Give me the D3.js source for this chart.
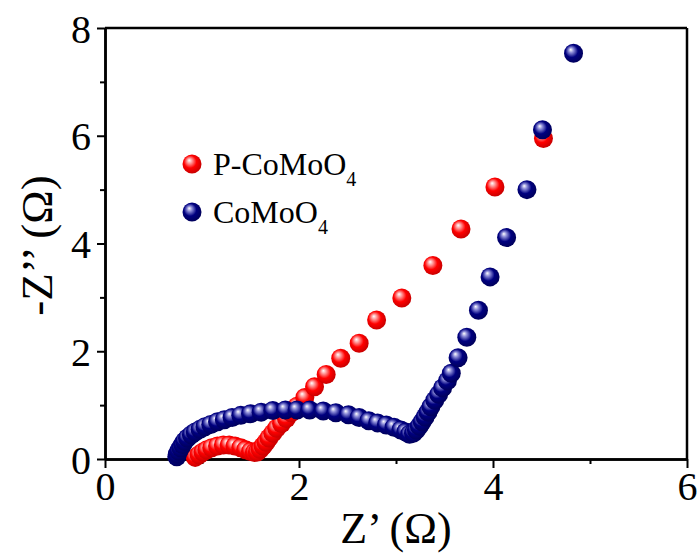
<!DOCTYPE html>
<html>
<head>
<meta charset="utf-8">
<script src="https://cdn.jsdelivr.net/npm/d3@7"></script>
<style>
  html, body { margin: 0; padding: 0; background: #fff; }
  svg { display: block; }
  text { font-family: "Liberation Serif", "Times New Roman", serif; fill: #000; }
</style>
</head>
<body>
<svg id="chart" width="699" height="556"></svg>
<script>
// ---- Data ----
const seriesNames = ["P-CoMoO", "CoMoO"];
const seriesSub = ["4", "4"];

const pZre = [0.93,0.97,1.01,1.05,1.10,1.16,1.22,1.28,1.34,1.40,1.45,1.50,1.54,1.57,1.60,1.63,1.66,1.69,1.73,1.77,1.82,1.87,1.92,1.98,2.06,2.16,2.28,2.43,2.62,2.80,3.06,3.38,3.67,4.02,4.52];
const pZim = [0.03,0.08,0.13,0.17,0.21,0.24,0.26,0.26,0.24,0.21,0.17,0.14,0.12,0.13,0.18,0.24,0.31,0.39,0.48,0.57,0.66,0.75,0.86,0.98,1.14,1.34,1.57,1.87,2.15,2.58,2.99,3.59,4.27,5.05,5.95];

const cZre = [0.74,0.745,0.76,0.78,0.80,0.82,0.85,0.89,0.93,0.98,1.03,1.09,1.16,1.23,1.31,1.40,1.50,1.61,1.73,1.86,1.98,2.11,2.25,2.38,2.51,2.62,2.72,2.81,2.90,2.98,3.05,3.10,3.14,3.18,3.21,3.24,3.27,3.30,3.33,3.36,3.40,3.44,3.48,3.53,3.57,3.64,3.73,3.85,3.97,4.14,4.35,4.51,4.83];
const cZim = [0.04,0.09,0.15,0.21,0.27,0.33,0.39,0.45,0.50,0.55,0.60,0.64,0.69,0.73,0.77,0.81,0.84,0.87,0.90,0.91,0.91,0.91,0.89,0.86,0.82,0.77,0.71,0.67,0.63,0.59,0.54,0.50,0.46,0.48,0.54,0.61,0.69,0.78,0.87,0.97,1.09,1.20,1.32,1.45,1.59,1.88,2.26,2.76,3.38,4.11,5.00,6.11,7.53];

const xMajor = [0, 2, 4, 6];
const xMinor = [1, 3, 5];
const yMajor = [0, 2, 4, 6, 8];
const yMinor = [1, 3, 5, 7];

// ---- Layout ----
const svg = d3.select("#chart");
const L = 105, R = 687, T = 28, B = 459;
const x = d3.scaleLinear().domain([0, 6]).range([L, R]);
const y = d3.scaleLinear().domain([0, 8]).range([B, T]);

// gradients
const defs = svg.append("defs");
function sphere(id, light, base, dark) {
  const g = defs.append("radialGradient").attr("id", id)
    .attr("cx", "45%").attr("cy", "45%").attr("r", "60%")
    .attr("fx", "35%").attr("fy", "30%");
  g.append("stop").attr("offset", "0%").attr("stop-color", "#ffffff");
  g.append("stop").attr("offset", "22%").attr("stop-color", light);
  g.append("stop").attr("offset", "55%").attr("stop-color", base);
  g.append("stop").attr("offset", "100%").attr("stop-color", dark);
}
sphere("gRed", "#ff9a9a", "#ff0000", "#c00000");
sphere("gBlue", "#8c8cd8", "#000080", "#000055");

// ---- Axes ----
const axW = 2.5;
const xAxis = svg.append("g").attr("transform", `translate(0,${B})`)
  .call(d3.axisBottom(x).tickValues(xMajor).tickSize(9).tickSizeOuter(0).tickFormat(d3.format("d")));
const xAxisMinor = svg.append("g").attr("transform", `translate(0,${B})`)
  .call(d3.axisBottom(x).tickValues(xMinor).tickSize(5).tickSizeOuter(0).tickFormat(""));
const yAxis = svg.append("g").attr("transform", `translate(${L},0)`)
  .call(d3.axisLeft(y).tickValues(yMajor).tickSize(8).tickSizeOuter(0).tickFormat(d3.format("d")));
const yAxisMinor = svg.append("g").attr("transform", `translate(${L},0)`)
  .call(d3.axisLeft(y).tickValues(yMinor).tickSize(5).tickSizeOuter(0).tickFormat(""));

[xAxis, xAxisMinor, yAxis, yAxisMinor].forEach(a => {
  a.select(".domain").attr("stroke", "#000").attr("stroke-width", axW);
  a.selectAll(".tick line").attr("stroke", "#000").attr("stroke-width", 2);
  a.selectAll(".tick text").attr("font-family", "Liberation Serif, Times New Roman, serif").attr("font-size", 40).attr("fill", "#000");
});
xAxis.selectAll(".tick text").attr("dy", null).attr("y", 41);
yAxis.selectAll(".tick text").attr("x", -14).attr("dy", "0.35em");

// frame top & right
svg.append("line").attr("x1", L).attr("x2", R).attr("y1", T).attr("y2", T).attr("stroke", "#000").attr("stroke-width", axW);
svg.append("line").attr("x1", R).attr("x2", R).attr("y1", T).attr("y2", B).attr("stroke", "#000").attr("stroke-width", axW);

// ---- Points ----
const rad = 9.5;
const pData = pZre.map((v, i) => [v, pZim[i]]);
const cData = cZre.map((v, i) => [v, cZim[i]]);
svg.append("g").selectAll("circle").data(pData).join("circle")
  .attr("cx", d => x(d[0])).attr("cy", d => y(d[1])).attr("r", rad).attr("fill", "url(#gRed)");
svg.append("g").selectAll("circle").data(cData).join("circle")
  .attr("cx", d => x(d[0])).attr("cy", d => y(d[1])).attr("r", rad).attr("fill", "url(#gBlue)");

// ---- Legend ----
const legend = svg.append("g");
const legFills = ["url(#gRed)", "url(#gBlue)"];
seriesNames.forEach((name, i) => {
  const cy = 164 + i * 48;
  legend.append("circle").attr("cx", 192).attr("cy", cy).attr("r", rad).attr("fill", legFills[i]);
  const t = legend.append("text").attr("x", 213).attr("y", cy + 11).attr("font-size", 32);
  t.append("tspan").text(name);
  t.append("tspan").attr("font-size", 20).attr("dy", 11).text(seriesSub[i]);
});

// ---- Axis titles ----
svg.append("text").attr("x", (L + R) / 2).attr("y", 543).attr("text-anchor", "middle")
  .attr("font-size", 44).text("Z’ (Ω)");
svg.append("text").attr("transform", `translate(52,${(T + B) / 2 + 2}) rotate(-90)`)
  .attr("text-anchor", "middle").attr("font-size", 45).text("-Z’’ (Ω)");
</script>
</body>
</html>
